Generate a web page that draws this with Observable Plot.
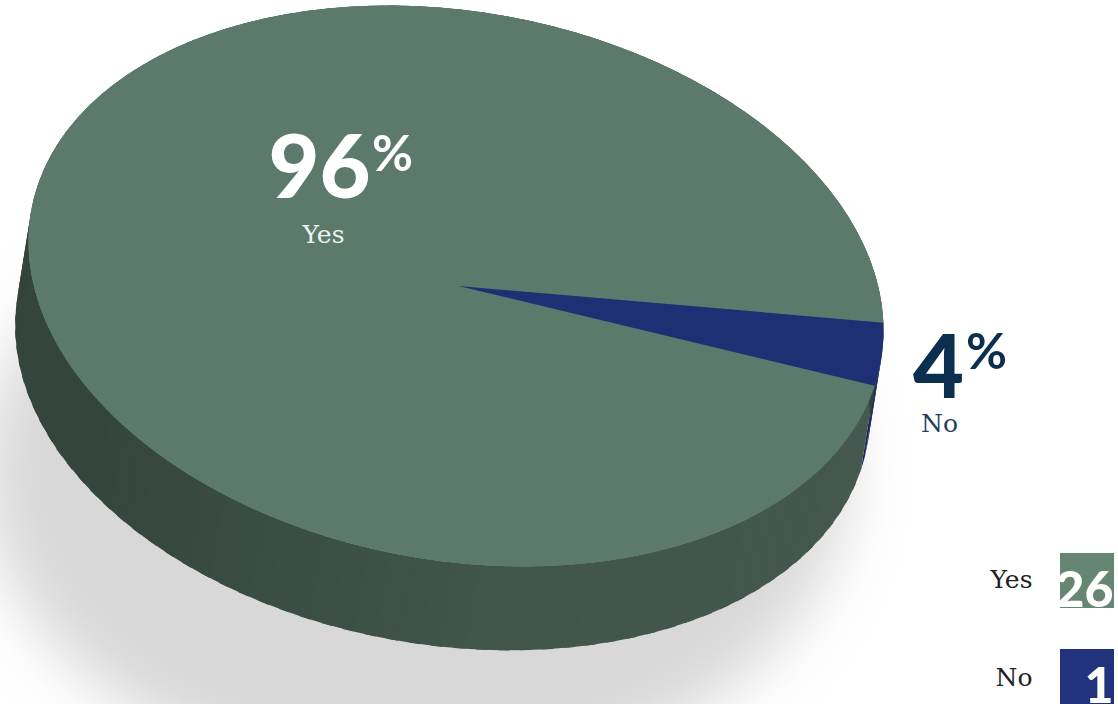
<!DOCTYPE html>
<html>
<head>
<meta charset="utf-8">
<style>html,body{margin:0;padding:0;background:#fff;overflow:hidden}svg{display:block}</style>
<script src="https://cdn.jsdelivr.net/npm/d3@7"></script>
<script src="https://cdn.jsdelivr.net/npm/@observablehq/plot@0.6"></script>
</head>
<body>
<script>
// Survey responses
const categories = ["Yes", "No"];
const counts = [26, 1];

// Face colours and legend swatch colours per answer
const faceColors = ["#5c7a6c", "#1f2f73"];
const legendColors = ["#668674", "#22337d"];

// Tilted ellipse of the pie's top face and the offset of its extruded base
const pie = {cx: 455.5, cy: 285.5, rx: 427.5, skew: 44.4, ry: 276.9, startDeg: -1.6, depthX: -13.5, depthY: 84};
// Ellipse of the ground shadow
const ground = {cx: 415, cy: 472, rx: 432, ry: 312};
const rad = Math.PI / 180;
const rim = (deg, ox = 0, oy = 0) => {
  const c = Math.cos(deg * rad), s = Math.sin(deg * rad);
  return {
    x: pie.cx + ox + pie.rx * c,
    y: pie.cy + oy + pie.skew * c + pie.ry * s
  };
};

// Slice angles follow the counts; the small slice opens at the right-hand rim
const total = d3.sum(counts);
const spanNo = counts[1] / total * 360;
const slices = [
  {name: categories[0], from: pie.startDeg + spanNo, to: pie.startDeg + 360, color: faceColors[0]},
  {name: categories[1], from: pie.startDeg, to: pie.startDeg + spanNo, color: faceColors[1]}
];

const facePoints = slices.flatMap(s => {
  const angles = [...d3.range(s.from, s.to, 0.5), s.to];
  return [
    {x: pie.cx + 2.5, y: pie.cy, name: s.name, color: s.color},
    ...angles.map(a => ({...rim(a), name: s.name, color: s.color}))
  ];
});

// A full disc under the slices keeps their shared edges free of background
const discPoints = d3.range(0, 360, 0.5).map(a => rim(a));

// Side wall: bands shaded from the lit right towards the dark left.
// Each band runs a little under the next one so no gaps appear between them.
const wallShade = d3.scaleLinear()
  .domain([15, 36, 84, 111, 130, 146, 200])
  .range(["#46594f", "#43574d", "#41554b", "#3b4e45", "#37493f", "#34453d", "#33443c"])
  .clamp(true);
const wallPoints = [];
const bandStep = 3;
for (let a = 0; a < 360; a += bandStep) {
  const mid = a + bandStep / 2;
  const inNo = mid > slices[1].from && mid < slices[1].to;
  const color = inNo ? "#16235f" : wallShade(mid);
  const end = a + bandStep + (inNo ? 0 : 1.5);
  [rim(a), rim(end), rim(end, pie.depthX, pie.depthY), rim(a, pie.depthX, pie.depthY)]
    .forEach(p => wallPoints.push({...p, band: `${a}`, color}));
}

// Soft ground shadow under the pie
const shadowPoints = d3.range(0, 361, 3).map(a => ({
  x: ground.cx + ground.rx * Math.cos(a * rad),
  y: ground.cy + ground.ry * Math.sin(a * rad)
}));

// Labels
const pct = counts.map(c => Math.round(c / total * 100));
const bigLabels = [
  {text: String(pct[0]), x: 319, y: 197, color: "#ffffff"},
  {text: String(pct[1]), x: 938, y: 397, color: "#0d2f4f"}
];
const pctSigns = [
  {text: "%", x: 392, y: 170, color: "#ffffff"},
  {text: "%", x: 986, y: 368, color: "#0d2f4f"}
];
const answerLabels = [
  {text: categories[0], x: 323, y: 242, color: "#eef2f0"},
  {text: categories[1], x: 939, y: 431, color: "#1f4060"}
];

// Legend rows
const legendRows = categories.map((name, i) => ({
  name, count: String(counts[i]), color: legendColors[i],
  x1: 1060, x2: 1114, y1: [553, 649][i], y2: [608, 704][i],
  labelY: [587, 685][i], countY: [606, 702][i]
}));

const slab = "'DejaVu Serif', serif";
const heavy = "Lato, sans-serif";
const pos = {x: "x", y: "y", lineAnchor: "bottom"};

const chart = Plot.plot({
  width: 1118,
  height: 704,
  margin: 0,
  x: {domain: [0, 1118], range: [0, 1118], axis: null},
  y: {domain: [0, 704], range: [0, 704], axis: null},
  color: {type: "identity"},
  marks: [
    Plot.line(shadowPoints, {x: "x", y: "y", fill: "#d8d8d8", stroke: "none", imageFilter: "blur(31px)"}),
    Plot.line(wallPoints, {x: "x", y: "y", z: "band", fill: "color", stroke: "none"}),
    Plot.line(discPoints, {x: "x", y: "y", fill: faceColors[0], stroke: "none"}),
    Plot.line(facePoints, {x: "x", y: "y", z: "name", fill: "color", stroke: "none"}),
    Plot.text(bigLabels, {...pos, text: "text", fill: "color", fontFamily: heavy, fontWeight: 900, fontSize: 88}),
    Plot.text(pctSigns, {...pos, text: "text", fill: "color", fontFamily: heavy, fontWeight: 700, fontSize: 50}),
    Plot.text(answerLabels, {...pos, text: "text", fill: "color", fontFamily: slab, fontSize: 25}),
    Plot.rect(legendRows, {x1: "x1", x2: "x2", y1: "y1", y2: "y2", fill: "color"}),
    Plot.text(legendRows, {x: 1032, y: "labelY", lineAnchor: "bottom", textAnchor: "end", text: "name", fill: "#222222", fontFamily: slab, fontSize: 25}),
    Plot.text(legendRows, {x: 1113, y: "countY", lineAnchor: "bottom", textAnchor: "end", text: "count", fill: "#ffffff", fontFamily: heavy, fontWeight: 900, fontSize: 50})
  ]
});
document.body.appendChild(chart);
</script>
</body>
</html>
